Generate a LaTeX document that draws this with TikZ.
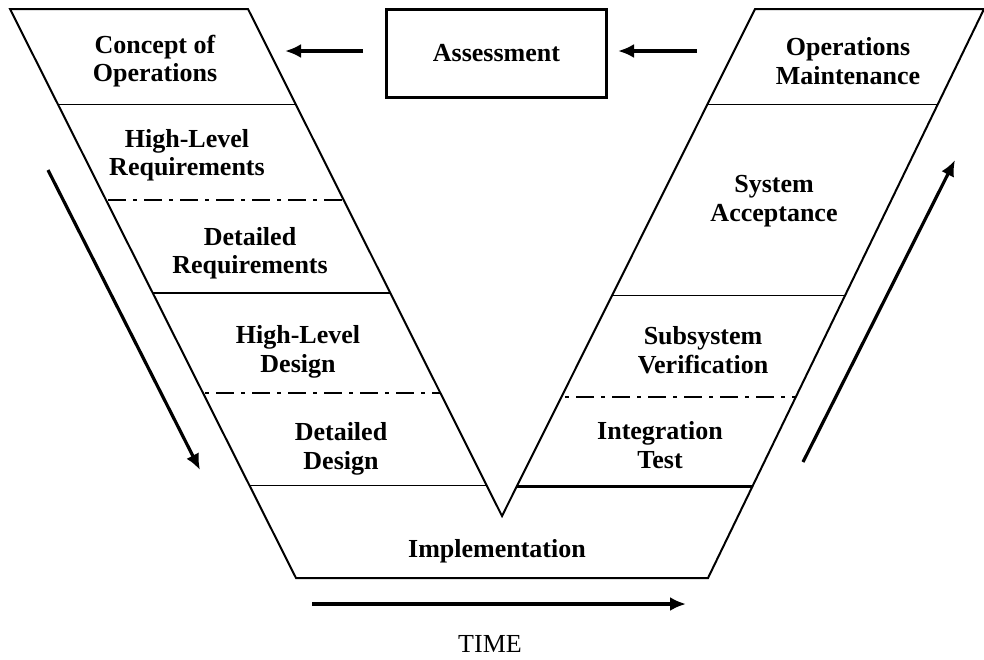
\documentclass[tikz,border=0pt]{standalone}
\usepackage{fontspec}
\setmainfont{Liberation Serif}
\usetikzlibrary{positioning,arrows.meta}

\begin{document}
\begin{tikzpicture}[x=1pt, y=-1pt,
    stage/.style={align=center, font=\bfseries\fontsize{26}{28.5}\selectfont},
    flow/.style={-{Latex[length=16pt,width=14pt]}, line width=3.2pt},
    vline/.style={line width=2pt},
    split/.style={line width=1pt},
    dashdot/.style={line width=2.2pt, dash pattern=on 18pt off 7pt on 4pt off 7pt}]
  \useasboundingbox (0,0) rectangle (984,659);

  % dividers, left arm
  \begin{scope}
    \clip (10,9) -- (248,9) -- (502,516) -- (296,578) -- cycle;
    \draw[split] (0,104) -- (984,104);
    \draw[dashdot] (0,200) -- (984,200);
    \draw[line width=1.6pt] (0,293) -- (984,293);
    \draw[dashdot] (0,393) -- (984,393);
    \draw[split] (0,485) -- (984,485);
  \end{scope}
  % dividers, right arm
  \begin{scope}
    \clip (755,9) -- (984,9) -- (708,578) -- (502,516) -- cycle;
    \draw[split] (0,104) -- (984,104);
    \draw[split] (0,295) -- (984,295);
    \draw[dashdot] (0,397) -- (984,397);
    \draw[line width=3pt] (0,486) -- (984,486);
  \end{scope}

  % the V
  \draw[vline] (10,9) -- (248,9) -- (502,516) -- (755,9) -- (984,9)
    -- (708,578) -- (296,578) -- cycle;

  \node[stage] (conops) at (155,61) {Concept of\\Operations};
  \node[stage] (hlreq) at (187,155) {High-Level\\Requirements};
  \node[stage] (detreq) at (250,253) {Detailed\\Requirements};
  \node[stage] (hldes) at (298,352) {High-Level\\Design};
  \node[stage] (detdes) at (341,449) {Detailed\\Design};
  \node[stage] (impl) at (497,551) {Implementation};
  \node[stage] (opsm) at (848,61) {Operations\\Maintenance};
  \node[stage] (sysacc) at (774,201) {System\\Acceptance};
  \node[stage] (subver) at (703,350) {Subsystem\\Verification};
  \node[stage] (inttest) at (660,445) {Integration\\Test};

  \node[stage, draw, line width=3pt, minimum width=220pt, minimum height=88pt] (assess) at (496.5,53.5) {Assessment};

  \coordinate (toConops) at (285,51);
  \coordinate (fromOps) at (697,51);
  \draw[flow] ([xshift=-22pt,yshift=2.5pt]assess.west) -- (toConops);
  \draw[flow] (fromOps) -- ([xshift=10pt,yshift=2.5pt]assess.east);

  \coordinate (downTop) at (48,170);
  \coordinate (downEnd) at (200,470);
  \draw[flow] (downTop) -- (downEnd);
  \coordinate (upBase) at (803,462);
  \coordinate (upEnd) at (955,160);
  \draw[flow] (upBase) -- (upEnd);

  \coordinate (timeStart) at (312,604);
  \coordinate (timeEnd) at (686,604);
  \draw[flow] (timeStart) -- (timeEnd);
  \node[font=\fontsize{26}{28}\selectfont] (time) at (490,644) {TIME};
\end{tikzpicture}
\end{document}
